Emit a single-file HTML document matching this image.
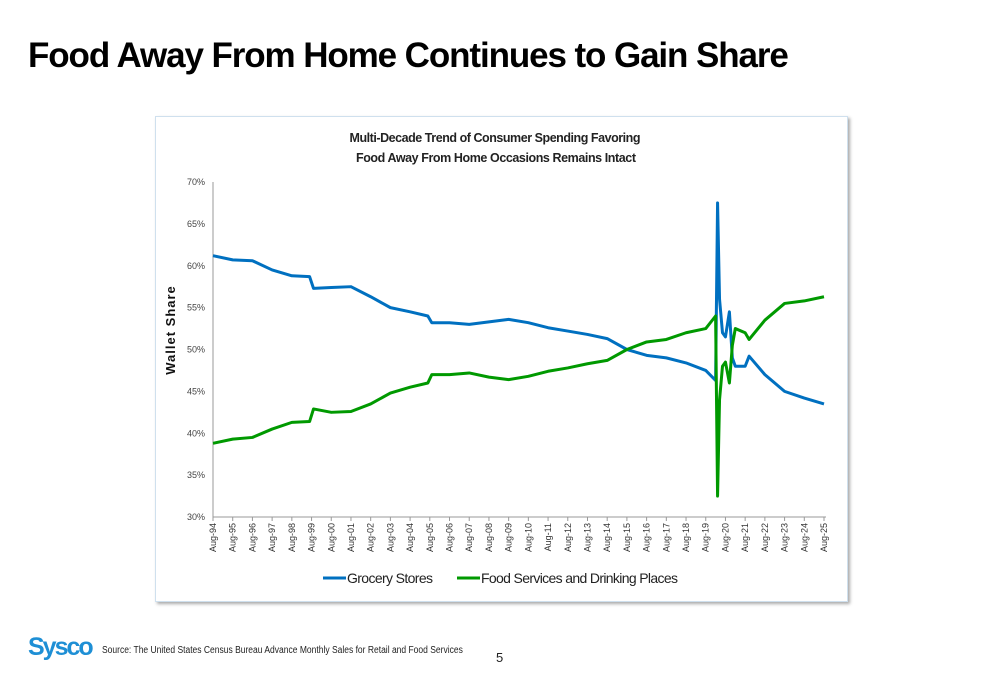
<!DOCTYPE html>
<html><head><meta charset="utf-8"><style>
body{margin:0;width:1000px;height:685px;background:#fff;font-family:"Liberation Sans",sans-serif;position:relative;overflow:hidden}
#title{position:absolute;left:28px;top:36px;font-size:35px;font-weight:bold;letter-spacing:-1.1px;color:#000;white-space:nowrap}
#panel{position:absolute;left:155px;top:116px;width:691px;height:484px;background:#fff;border:1px solid #cfe0ee;box-shadow:2px 2px 3px #aaa}
#src{position:absolute;left:102px;top:645px;font-size:10px;color:#222;transform:scaleX(0.85);transform-origin:left;white-space:nowrap}
#pg{position:absolute;left:496px;top:650px;font-size:13px;color:#222}
#logo{position:absolute;left:28px;top:633px;font-size:25px;font-weight:bold;color:#1e8fd5;letter-spacing:-2px}
</style></head><body>
<div id="title">Food Away From Home Continues to Gain Share</div>
<div id="panel"></div>
<svg id="chart" width="1000" height="685" style="position:absolute;left:0;top:0"></svg>
<div id="logo">Sysco</div>
<div id="src">Source: The United States Census Bureau Advance Monthly Sales for Retail and Food Services</div>
<div id="pg">5</div>
<script>
const groceryDates=[1994.6,1995.6,1996.6,1997.6,1998.6,1999.5,1999.7,2000.6,2001.6,2002.6,2003.6,2004.6,2005.5,2005.7,2006.6,2007.6,2008.6,2009.6,2010.6,2011.6,2012.6,2013.6,2014.6,2015.6,2016.6,2017.6,2018.6,2019.6,2020.1,2020.2,2020.3,2020.45,2020.6,2020.8,2020.95,2021.1,2021.6,2021.8,2022.6,2023.6,2024.6,2025.6];
const groceryVals=[61.2,60.7,60.6,59.5,58.8,58.7,57.3,57.4,57.5,56.3,55.0,54.5,54.0,53.2,53.2,53.0,53.3,53.6,53.2,52.6,52.2,51.8,51.3,50.0,49.3,49.0,48.4,47.5,46.3,67.5,56,52,51.5,54.5,49,48,48,49.2,47,45,44.2,43.5];
const foodDates=[1994.6,1995.6,1996.6,1997.6,1998.6,1999.5,1999.7,2000.6,2001.6,2002.6,2003.6,2004.6,2005.5,2005.7,2006.6,2007.6,2008.6,2009.6,2010.6,2011.6,2012.6,2013.6,2014.6,2015.6,2016.6,2017.6,2018.6,2019.6,2020.1,2020.2,2020.3,2020.45,2020.6,2020.8,2020.95,2021.1,2021.6,2021.8,2022.6,2023.6,2024.6,2025.6];
const foodVals=[38.8,39.3,39.5,40.5,41.3,41.4,42.9,42.5,42.6,43.5,44.8,45.5,46.0,47.0,47.0,47.2,46.7,46.4,46.8,47.4,47.8,48.3,48.7,50.0,50.9,51.2,52.0,52.5,54.0,32.5,44,48,48.5,46,50.5,52.5,52,51.2,53.5,55.5,55.8,56.3];
const yTicks=[30,35,40,45,50,55,60,65,70];
const xYears=[];for(let y=94;y<=125;y++)xYears.push(y);
const NS="http://www.w3.org/2000/svg",svg=document.getElementById('chart');
const X=t=>213+(t-1994.6)*(611/31),Y=v=>517-(v-30)*8.375;
function mk(tag,a,txt){const e=document.createElementNS(NS,tag);for(const k in a)e.setAttribute(k,a[k]);if(txt!=null)e.textContent=txt;svg.appendChild(e);return e;}
let t=mk('text',{x:495,y:142,'text-anchor':'middle','font-size':12.5,'font-weight':'bold',fill:'#222',textLength:291},'Multi-Decade Trend of Consumer Spending Favoring');

t=mk('text',{x:496,y:162,'text-anchor':'middle','font-size':12.5,'font-weight':'bold',fill:'#222',textLength:280},'Food Away From Home Occasions Remains Intact');

let ax=mk('line',{x1:213,y1:182,x2:213,y2:517,stroke:'#999'});
ax=mk('line',{x1:213,y1:517,x2:826,y2:517,stroke:'#999'});
yTicks.forEach(v=>{const e=mk('text',{x:205,y:Y(v)+3,'text-anchor':'end','font-size':9,fill:'#444'},v+'%');});
xYears.forEach(y=>{const x=X(1994.6+(y-94));mk('line',{x1:x,y1:517,x2:x,y2:521,stroke:'#999'});
const lab='Aug-'+String(y%100).padStart(2,'0');const e=mk('text',{x:0,y:0,transform:`translate(${x+3},523) rotate(-90)`,'text-anchor':'end','font-size':9,fill:'#333'},lab);
});
t=mk('text',{x:0,y:0,transform:'translate(175,330) rotate(-90)','text-anchor':'middle','font-size':13,'font-weight':'bold',fill:'#111','letter-spacing':'1'},'Wallet Share');

function series(d,v,c,n){const p=mk('polyline',{points:d.map((x,i)=>X(x)+','+Y(v[i])).join(' '),fill:'none',stroke:c,'stroke-width':3,'stroke-linejoin':'round'});}
series(groceryDates,groceryVals,'#0070c0','grocery-stores-line');
series(foodDates,foodVals,'#009900','food-services-line');
let l=mk('line',{x1:323,y1:578,x2:346,y2:578,stroke:'#0070c0','stroke-width':3});
t=mk('text',{x:347,y:583,'font-size':14,fill:'#222',textLength:86},'Grocery Stores');
l=mk('line',{x1:457,y1:578,x2:480,y2:578,stroke:'#009900','stroke-width':3});
t=mk('text',{x:481,y:583,'font-size':14,fill:'#222',textLength:197},'Food Services and Drinking Places');
</script>
</body></html>
